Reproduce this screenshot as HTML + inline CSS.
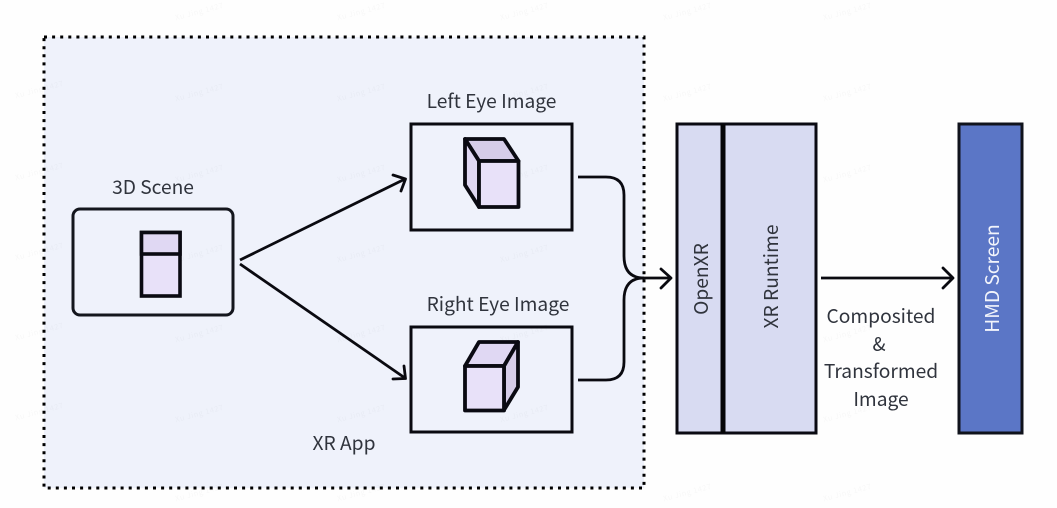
<!DOCTYPE html>
<html><head><meta charset="utf-8">
<style>
html,body{margin:0;padding:0;background:#fff;width:1057px;height:508px;overflow:hidden}
svg{display:block}
text{font-family:"Noto Sans CJK SC","Liberation Sans",sans-serif;font-size:19.200px;fill:#30343d;text-anchor:middle}
.wm text{font-size:7.500px;fill:#000;fill-opacity:.03;letter-spacing:.5px}
</style></head><body>
<svg width="1057" height="508" viewBox="0 0 1057 508" xmlns="http://www.w3.org/2000/svg">
<rect width="1057" height="508" fill="#fefefe"/>
<rect x="44" y="37" width="600" height="451" fill="#eff2fb"/>
<g fill="none" stroke="#000" stroke-width="3" stroke-dasharray="3 5.1">
<path d="M44 37H644V488H44Z"/>
</g>
<g class="wm">
<text transform="translate(40 92) rotate(-15)">Xu Jing 1427</text>
<text transform="translate(200 95) rotate(-15)">Xu Jing 1427</text>
<text transform="translate(362 95) rotate(-15)">Xu Jing 1427</text>
<text transform="translate(40 174) rotate(-15)">Xu Jing 1427</text>
<text transform="translate(200 176) rotate(-15)">Xu Jing 1427</text>
<text transform="translate(362 176) rotate(-15)">Xu Jing 1427</text>
<text transform="translate(40 254) rotate(-15)">Xu Jing 1427</text>
<text transform="translate(200 256) rotate(-15)">Xu Jing 1427</text>
<text transform="translate(362 256) rotate(-15)">Xu Jing 1427</text>
<text transform="translate(40 334) rotate(-15)">Xu Jing 1427</text>
<text transform="translate(200 336) rotate(-15)">Xu Jing 1427</text>
<text transform="translate(362 336) rotate(-15)">Xu Jing 1427</text>
<text transform="translate(40 414) rotate(-15)">Xu Jing 1427</text>
<text transform="translate(200 416) rotate(-15)">Xu Jing 1427</text>
<text transform="translate(362 416) rotate(-15)">Xu Jing 1427</text>
<text transform="translate(525 95) rotate(-15)">Xu Jing 1427</text>
<text transform="translate(525 176) rotate(-15)">Xu Jing 1427</text>
<text transform="translate(525 256) rotate(-15)">Xu Jing 1427</text>
<text transform="translate(525 336) rotate(-15)">Xu Jing 1427</text>
<text transform="translate(525 416) rotate(-15)">Xu Jing 1427</text>
<text transform="translate(688 95) rotate(-15)">Xu Jing 1427</text>
<text transform="translate(848 95) rotate(-15)">Xu Jing 1427</text>
<text transform="translate(848 176) rotate(-15)">Xu Jing 1427</text>
<text transform="translate(848 336) rotate(-15)">Xu Jing 1427</text>
<text transform="translate(848 416) rotate(-15)">Xu Jing 1427</text>
<text transform="translate(688 14) rotate(-15)">Xu Jing 1427</text>
<text transform="translate(848 14) rotate(-15)">Xu Jing 1427</text>
<text transform="translate(200 14) rotate(-15)">Xu Jing 1427</text>
<text transform="translate(362 14) rotate(-15)">Xu Jing 1427</text>
<text transform="translate(525 14) rotate(-15)">Xu Jing 1427</text>
<text transform="translate(200 495) rotate(-15)">Xu Jing 1427</text>
<text transform="translate(362 495) rotate(-15)">Xu Jing 1427</text>
<text transform="translate(688 495) rotate(-15)">Xu Jing 1427</text>
<text transform="translate(848 495) rotate(-15)">Xu Jing 1427</text>
</g>

<!-- 3D Scene -->
<rect x="73" y="209" width="160" height="106" rx="7" fill="none" stroke="#14161d" stroke-width="3"/>
<rect x="141.500" y="232.500" width="38.500" height="63.500" fill="#e8e1f9" stroke="#0a0a12" stroke-width="3.600"/>
<rect x="141.500" y="232.500" width="38.500" height="21.500" fill="#e0d8f3" stroke="#0a0a12" stroke-width="3.600"/>

<!-- Left eye -->
<rect x="411" y="124" width="161" height="106" fill="none" stroke="#0a0a10" stroke-width="3"/>
<g stroke="#0a0a12" stroke-width="3.800" stroke-linejoin="round">
<path d="M465 139H504L518.500 161H479Z" fill="#d6cde9"/>
<path d="M465 139V185L479 207V161Z" fill="#e0d8f3"/>
<rect x="479" y="161" width="39.500" height="46" fill="#e8e1f9"/>
</g>

<!-- Right eye -->
<rect x="411" y="327" width="161" height="105" fill="none" stroke="#0a0a10" stroke-width="3"/>
<g stroke="#0a0a12" stroke-width="3.800" stroke-linejoin="round">
<path d="M465 366L479 342H518L504 366Z" fill="#e0d8f3"/>
<path d="M504 366L518 342V387L504 410Z" fill="#d6cde9"/>
<rect x="465" y="366" width="39" height="44.500" fill="#e8e1f9"/>
</g>

<!-- Arrows -->
<g fill="none" stroke="#0a0a10" stroke-width="2.800" stroke-linecap="round" stroke-linejoin="round">
<path d="M240 260L405 179" stroke-linecap="butt"/>
<path d="M393 175L405.500 179L401 191"/>
<path d="M240 264L405 378" stroke-linecap="butt"/>
<path d="M393 379L405.500 378.500L404 366"/>
<path d="M578 177H606Q624 177 624 195V256Q624 278 644 278H670" stroke-linecap="butt"/>
<path d="M578 380H606Q624 380 624 362V300Q624 278 644 278" stroke-linecap="butt"/>
<path d="M661 269L671 278L661 288"/>
<path d="M821 278H952" stroke-linecap="butt"/>
<path d="M943 268L953 278L943 288"/>
</g>

<!-- XR -->
<rect x="677" y="124" width="139" height="309" fill="#d8dbf2" stroke="#0a0a12" stroke-width="3"/>
<rect x="720.500" y="124" width="5" height="309" fill="#050508"/>
<rect x="959" y="124" width="63" height="309" fill="#5b76c6" stroke="#10131c" stroke-width="3"/>

<!-- Labels -->
<text x="153" y="194">3D Scene</text>
<text x="491.500" y="108">Left Eye Image</text>
<text x="498" y="311">Right Eye Image</text>
<text x="344" y="450">XR App</text>
<text transform="translate(708 279) rotate(-90)">OpenXR</text>
<text transform="translate(778 276.500) rotate(-90)">XR Runtime</text>
<text transform="translate(999 278.500) rotate(-90)" style="fill:#f2f4fb">HMD Screen</text>
<text x="881" y="323">Composited</text>
<text x="879" y="351">&amp;</text>
<text x="881" y="378">Transformed</text>
<text x="881" y="406">Image</text>
</svg>
</body></html>
